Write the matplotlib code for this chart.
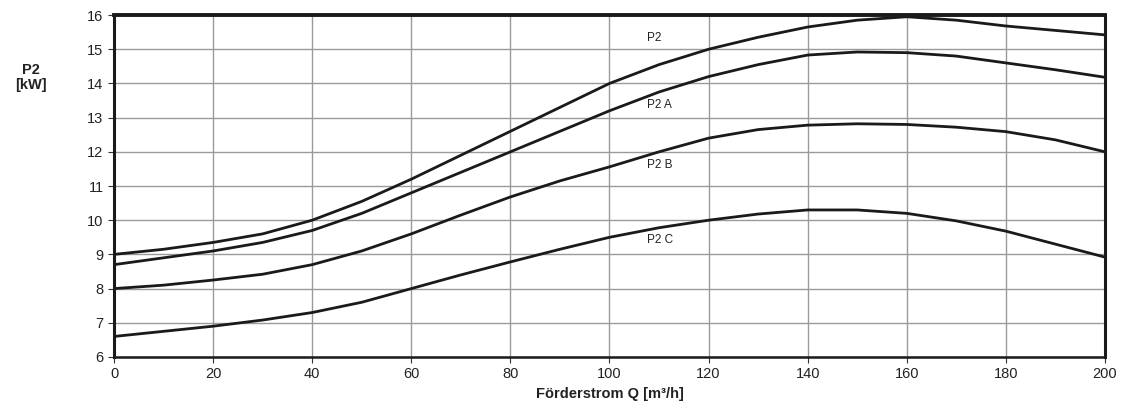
import matplotlib
matplotlib.use("Agg")
import matplotlib.pyplot as plt

plt.rcParams['font.family'] = ['Liberation Sans', 'DejaVu Sans']

q = [0, 10, 20, 30, 40, 50, 60, 70, 80, 90, 100, 110, 120, 130, 140, 150, 160, 170, 180, 190, 200]
p2 = [9.0, 9.15, 9.35, 9.6, 10.0, 10.55, 11.2, 11.9, 12.6, 13.3, 14.0, 14.55, 15.0, 15.35, 15.65, 15.85, 15.95, 15.85, 15.68, 15.55, 15.42]
p2a = [8.7, 8.9, 9.1, 9.35, 9.7, 10.2, 10.8, 11.4, 12.0, 12.6, 13.2, 13.75, 14.2, 14.55, 14.83, 14.92, 14.9, 14.8, 14.6, 14.4, 14.18]
p2b = [8.0, 8.1, 8.25, 8.42, 8.7, 9.1, 9.6, 10.15, 10.68, 11.15, 11.56, 12.0, 12.4, 12.65, 12.78, 12.82, 12.8, 12.72, 12.59, 12.35, 12.0]
p2c = [6.6, 6.75, 6.9, 7.08, 7.3, 7.6, 8.0, 8.4, 8.78, 9.15, 9.5, 9.78, 10.0, 10.18, 10.3, 10.3, 10.2, 9.98, 9.68, 9.3, 8.92]

series = [("P2", p2), ("P2 A", p2a), ("P2 B", p2b), ("P2 C", p2c)]
label_pos = {"P2": (107.5, 15.33), "P2 A": (107.5, 13.37), "P2 B": (107.5, 11.6), "P2 C": (107.5, 9.42)}

xticks = list(range(0, 201, 20))
yticks = list(range(6, 17))

fig = plt.figure(figsize=(11.29, 4.18), dpi=100)
ax = fig.add_axes([0.101, 0.146, 0.8777, 0.818])

for name, vals in series:
    ax.plot(q, vals, color='#1a1a1a', lw=2.0, solid_capstyle='round', zorder=3)
    x, y = label_pos[name]
    ax.text(x, y, name, fontsize=8.5, color='#222222', ha='left', va='center', zorder=4)

ax.set_xlim(0, 200)
ax.set_ylim(6, 16)
ax.set_xticks(xticks)
ax.set_yticks(yticks)
ax.grid(True, color='#9a9a9a', lw=1.0, zorder=1)
ax.tick_params(axis='both', labelsize=10.5, colors='#333333', length=4, width=0.8, direction='out')
ax.tick_params(axis='both', labelcolor='#222222')

for s in ['left', 'right', 'top']:
    ax.spines[s].set_linewidth(2.2)
    ax.spines[s].set_color('#1a1a1a')
ax.spines['top'].set_linewidth(2.8)
ax.spines['bottom'].set_linewidth(1.8)
ax.spines['bottom'].set_color('#1a1a1a')

ax.set_xlabel("Förderstrom Q [m³/h]", fontsize=10.5, fontweight='bold', color='#222222', labelpad=4)
fig.text(0.027, 0.815, "P2\n[kW]", fontsize=10.5, fontweight='bold', color='#222222',
         ha='center', va='center', linespacing=1.1)

fig.savefig("out.png", dpi=100, facecolor='white')
